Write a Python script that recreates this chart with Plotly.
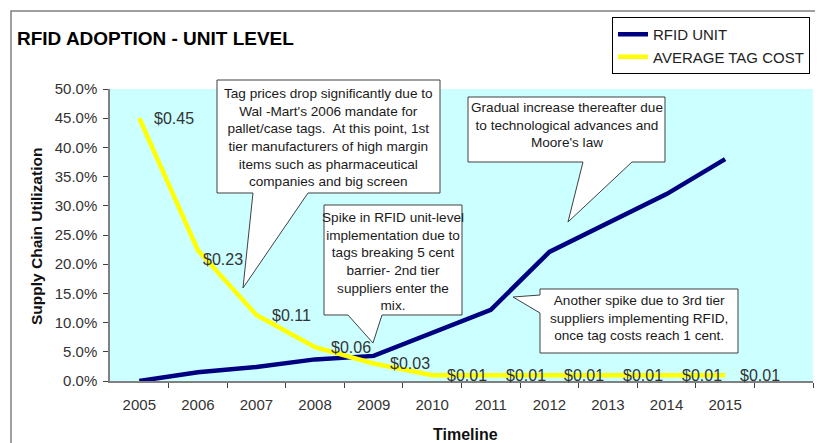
import plotly.graph_objects as go

# ---------------- data ----------------
years = ["2005", "2006", "2007", "2008", "2009", "2010", "2011", "2012", "2013", "2014", "2015"]
rfid_unit = [0.0, 0.015, 0.024, 0.037, 0.043, 0.082, 0.122, 0.221, 0.27, 0.32, 0.38]
avg_tag_cost = [0.45, 0.224, 0.113, 0.058, 0.030, 0.01, 0.01, 0.01, 0.01, 0.01, 0.01]
cost_labels = ["$0.45", "$0.23", "$0.11", "$0.06", "$0.03", "$0.01", "$0.01", "$0.01", "$0.01", "$0.01", "$0.01"]

FONT = "Liberation Sans, Arial, sans-serif"
# the page body has an 8px margin, so the figure sits at (8, 8) in the window
OFF = 8
W, H = 823 - OFF, 443 - OFF
L, R, T, B = 110 - OFF, 10, 89 - OFF, 62
PW, PH = W - L - R, H - T - B


def px(xr):
    """window x pixel -> paper x"""
    return (xr - OFF - L) / PW


def py(yr):
    """window y pixel -> paper y"""
    return (H - B - (yr - OFF)) / PH


def path(points):
    return "M " + " L ".join(f"{px(a):.5f},{py(b):.5f}" for a, b in points) + " Z"


xs = list(range(len(years)))

fig = go.Figure()
fig.add_trace(go.Scatter(x=xs, y=rfid_unit, mode="lines", name="RFID UNIT",
                         line=dict(color="#000080", width=4.5)))
fig.add_trace(go.Scatter(x=xs, y=avg_tag_cost, mode="lines", name="AVERAGE TAG COST",
                         line=dict(color="#FFFF00", width=4.5)))

annotations = []
# data labels for tag cost
label_shift = [(35, 0), (25, -9), (35, 0), (36, 0), (36, 0), (35, 0), (35, 0), (35, 0), (35, 0), (35, 0), (35, 0)]
for xi, yv, lab, (dx, dy) in zip(xs, avg_tag_cost, cost_labels, label_shift):
    annotations.append(dict(x=xi, y=yv, xref="x", yref="y", text=lab, showarrow=False,
                            xshift=dx, yshift=dy, xanchor="center", yanchor="middle",
                            font=dict(family=FONT, size=16, color="#333333")))

# callouts: (outline polygon in window pixels, text lines, text centre)
callouts = [
    ([(217, 80), (440, 80), (440, 193), (308, 193), (243, 288), (253, 193), (217, 193)],
     ["Tag prices drop significantly due to", "Wal -Mart's 2006 mandate for",
      "pallet/case tags.&nbsp; At this point, 1st", "tier manufacturers of high margin",
      "items such as pharmaceutical", "companies and big screen"], (328.5, 137)),
    ([(468, 97), (665, 97), (665, 162), (632, 162), (568, 222), (583, 162), (468, 162)],
     ["Gradual increase thereafter due", "to technological advances and", "Moore's law"],
     (566.5, 124.5)),
    ([(324, 205), (462, 205), (462, 315), (382, 315), (373, 343), (348, 315), (324, 315)],
     ["Spike in RFID unit-level", "implementation due to", "tags breaking 5 cent",
      "barrier- 2nd tier", "suppliers enter the", "mix."], (393, 261)),
    ([(540, 289), (738, 289), (738, 353), (540, 353), (540, 313), (513, 297), (540, 295)],
     ["Another spike due to 3rd tier", "suppliers implementing RFID,", "once tag costs reach 1 cent."],
     (639, 317.5)),
]

shapes = []
# outer chart border
shapes.append(dict(type="rect", xref="paper", yref="paper", x0=px(11), y0=py(470), x1=px(860), y1=py(11),
                   line=dict(color="#808080", width=1.5), fillcolor="rgba(0,0,0,0)", layer="below"))
for pts, lines, (cx, cy) in callouts:
    shapes.append(dict(type="path", xref="paper", yref="paper", path=path(pts),
                       fillcolor="white", line=dict(color="#404040", width=1), layer="above"))
    annotations.append(dict(x=px(cx), y=py(cy), xref="paper", yref="paper", text="<br>".join(lines),
                            showarrow=False, xanchor="center", yanchor="middle", align="center",
                            font=dict(family=FONT, size=13.6, color="#1a1a1a")))

# titles
annotations.append(dict(x=px(15), y=py(38), xref="paper", yref="paper", text="<b>RFID ADOPTION - UNIT LEVEL</b>",
                        showarrow=False, xanchor="left", yanchor="middle",
                        font=dict(family=FONT, size=19, color="black")))
annotations.append(dict(x=px(36), y=py(237), xref="paper", yref="paper", text="<b>Supply Chain Utilization</b>",
                        showarrow=False, textangle=-90, xanchor="center", yanchor="middle",
                        font=dict(family=FONT, size=15.5, color="#111111")))
annotations.append(dict(x=px(465), y=py(434), xref="paper", yref="paper", text="<b>Timeline</b>",
                        showarrow=False, xanchor="center", yanchor="middle",
                        font=dict(family=FONT, size=16, color="#111111")))

fig.update_layout(
    width=W, height=H,
    margin=dict(l=L, r=R, t=T, b=B, pad=0, autoexpand=False),
    paper_bgcolor="white",
    plot_bgcolor="#CCFFFF",
    font=dict(family=FONT, size=15, color="#333333"),
    showlegend=True,
    legend=dict(x=px(612), y=py(17), xanchor="left", yanchor="top",
                bgcolor="white", bordercolor="black", borderwidth=1,
                font=dict(family=FONT, size=15, color="#222222"),
                itemwidth=30, tracegroupgap=0),
    xaxis=dict(range=[-0.5, len(years) + 0.5], tickvals=xs, ticktext=years, ticks="",
               ticklabelstandoff=9,
               showgrid=False, zeroline=False, showline=True, linecolor="#808080", linewidth=1.5,
               tickfont=dict(family=FONT, size=15, color="#333333"),
               minor=dict(tickvals=[i + 0.5 for i in range(len(years) + 1)], ticks="outside",
                          ticklen=5, tickcolor="#404040", tickwidth=1, showgrid=False),
               fixedrange=True),
    yaxis=dict(range=[0, 0.5], dtick=0.05, tickformat=".1%", ticks="outside", ticklen=5,
               ticklabelstandoff=3,
               tickcolor="#404040", showgrid=False, zeroline=False, showline=True,
               linecolor="#808080", linewidth=1.5,
               tickfont=dict(family=FONT, size=15, color="#333333"), fixedrange=True),
    shapes=shapes,
    annotations=annotations,
)

fig.write_html("out.html")
